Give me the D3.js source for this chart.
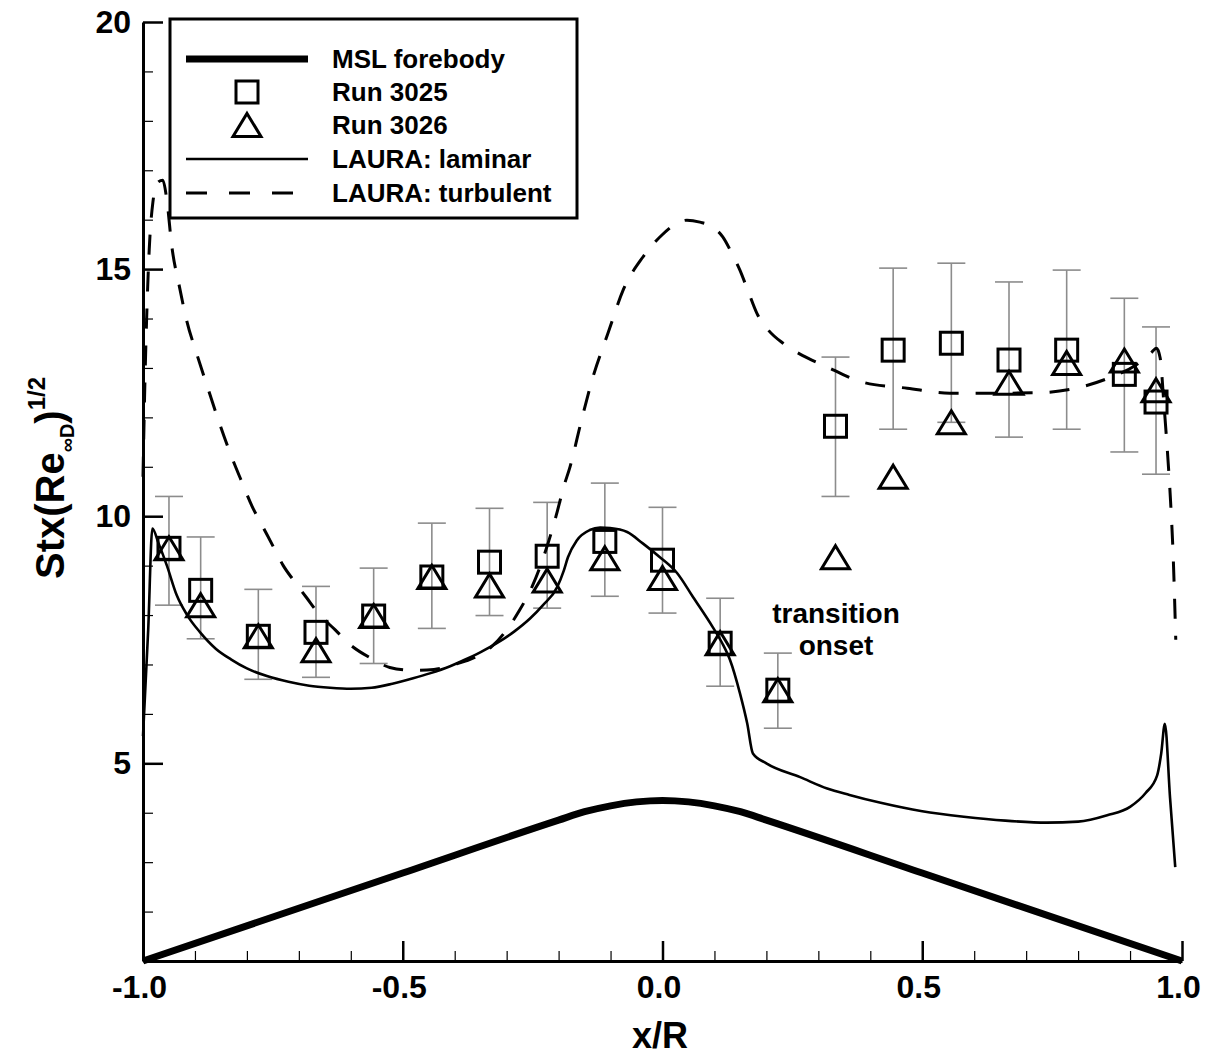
<!DOCTYPE html>
<html>
<head>
<meta charset="utf-8">
<script src="https://cdn.jsdelivr.net/npm/d3@7"></script>
<style>
  html, body { margin: 0; padding: 0; background: #fff; }
  svg { display: block; }
  text { font-family: "Liberation Sans", Arial, Helvetica, sans-serif; font-weight: bold; fill: #000; }
</style>
</head>
<body>
<svg id="chart" width="1214" height="1055"></svg>
<script>
// Station locations along the forebody (x/R) for the wind-tunnel gauges
const gaugeX = [-0.95, -0.889, -0.778, -0.667, -0.556, -0.444, -0.333, -0.222, -0.111, 0.0,
                0.111, 0.222, 0.333, 0.444, 0.556, 0.667, 0.778, 0.889, 0.95];

// Run 3025 measurements with uncertainty bounds
const run3025 = [9.35, 8.5, 7.57, 7.65, 7.98, 8.77, 9.07, 9.19, 9.49, 9.11,
                 7.43, 6.48, 11.82, 13.36, 13.5, 13.16, 13.36, 12.87, 12.31];
const run3025Hi = [10.4, 9.58, 8.52, 8.58, 8.95, 9.86, 10.16, 10.28, 10.67, 10.18,
                   8.34, 7.23, 13.22, 15.02, 15.12, 14.74, 14.98, 14.41, 13.83];
const run3025Lo = [8.2, 7.52, 6.7, 6.74, 7.02, 7.73, 7.99, 8.14, 8.38, 8.04,
                   6.56, 5.71, 10.4, 11.76, 11.9, 11.6, 11.76, 11.3, 10.85];

// Run 3026 measurements
const run3026 = [9.35, 8.2, 7.57, 7.29, 7.98, 8.77, 8.6, 8.7, 9.15, 8.75,
                 7.43, 6.48, 9.17, 10.8, 11.9, 12.7, 13.1, 13.15, 12.55];

// LAURA laminar solution
const laminarX = [-1.0, -0.99, -0.982, -0.97, -0.954, -0.935, -0.915, -0.89, -0.86, -0.83, -0.8, -0.76,
                  -0.72, -0.68, -0.64, -0.6, -0.56, -0.52, -0.48, -0.448, -0.41, -0.384, -0.35, -0.319,
                  -0.285, -0.255, -0.23, -0.203, -0.19, -0.182, -0.165, -0.14, -0.12, -0.101, -0.068,
                  -0.038, -0.005, 0.028, 0.059, 0.097, 0.115, 0.13, 0.149, 0.163, 0.174, 0.2, 0.265,
                  0.317, 0.36, 0.42, 0.5, 0.58, 0.66, 0.74, 0.8, 0.856, 0.9, 0.93, 0.952, 0.96, 0.967,
                  0.977, 0.987];
const laminarY = [5.55, 7.7, 9.75, 9.45, 9.0, 8.4, 8.0, 7.65, 7.32, 7.1, 6.92, 6.76,
                  6.65, 6.57, 6.53, 6.51, 6.53, 6.61, 6.72, 6.82, 6.96, 7.08, 7.25, 7.43,
                  7.67, 7.93, 8.2, 8.56, 8.9, 9.17, 9.51, 9.72, 9.77, 9.76, 9.68,
                  9.45, 9.17, 8.85, 8.36, 7.75, 7.43, 7.09, 6.42, 5.81, 5.2, 5.0, 4.72,
                  4.49, 4.36, 4.2, 4.03, 3.92, 3.84, 3.8, 3.82, 3.95, 4.12, 4.4, 4.75, 5.2, 5.8,
                  4.3, 2.9];

// LAURA turbulent solution
const turbulentX = [-1.0, -0.997, -0.993, -0.988, -0.981, -0.972, -0.962, -0.953, -0.945, -0.93,
                    -0.916, -0.897, -0.877, -0.855, -0.833, -0.81, -0.79, -0.77, -0.75, -0.73,
                    -0.71, -0.685, -0.663, -0.63, -0.6, -0.56, -0.525, -0.48, -0.44, -0.4,
                    -0.36, -0.33, -0.3, -0.275, -0.25, -0.225, -0.205, -0.19, -0.178, -0.156,
                    -0.134, -0.105, -0.076, -0.038, 0.0, 0.028, 0.047, 0.072, 0.097, 0.116,
                    0.132, 0.149, 0.165, 0.182, 0.205, 0.232, 0.27, 0.309, 0.386, 0.471,
                    0.553, 0.663, 0.727, 0.804, 0.86, 0.91, 0.94, 0.951, 0.958, 0.965,
                    0.972, 0.978, 0.983, 0.988];
const turbulentY = [10.8, 12.4, 14.0, 15.4, 16.35, 16.75, 16.8, 16.3, 15.5, 14.65,
                    13.96, 13.3, 12.65, 11.95, 11.3, 10.7, 10.2, 9.8, 9.4, 9.0,
                    8.7, 8.35, 8.04, 7.7, 7.39, 7.12, 6.94, 6.88, 6.9, 7.0,
                    7.15, 7.35, 7.7, 8.1, 8.6, 9.3, 10.0, 10.6, 11.0, 11.94,
                    12.81, 13.7, 14.57, 15.24, 15.7, 15.93, 15.99, 15.95, 15.85, 15.65,
                    15.35, 14.98, 14.55, 14.1, 13.75, 13.5, 13.25, 13.06, 12.71, 12.59,
                    12.49, 12.49, 12.5, 12.61, 12.8, 13.05, 13.3, 13.4, 13.2, 12.3,
                    11.3, 10.3, 9.2, 7.5];

// MSL forebody outline (scaled)
const forebodyX = [-1.0, -0.5, -0.2, -0.15, -0.1, -0.05, 0.0, 0.05, 0.1, 0.15, 0.2, 0.5, 1.0];
const forebodyY = [1.0, 2.78, 3.85, 4.02, 4.14, 4.22, 4.25, 4.22, 4.14, 4.02, 3.85, 2.78, 1.0];

// Axis ticks
const xMajorTicks = [-1.0, -0.5, 0.0, 0.5, 1.0];
const xTickLabels = ["-1.0", "-0.5", "0.0", "0.5", "1.0"];
const yMajorTicks = [5, 10, 15, 20];
const yTickLabels = ["5", "10", "15", "20"];

const legendLabels = ["MSL forebody", "Run 3025", "Run 3026", "LAURA: laminar", "LAURA: turbulent"];

const svg = d3.select("#chart");

const x = d3.scaleLinear().domain([-1, 1]).range([143, 1182]);
const y = d3.scaleLinear().domain([1, 20]).range([961, 22]);

const xMinor = d3.range(-10, 11).map(d => d / 10).filter(d => !xMajorTicks.some(t => Math.abs(t - d) < 1e-9));
const yMinor = d3.range(1, 21).filter(d => !yMajorTicks.includes(d));

// Axes
const gx = svg.append("g").attr("transform", `translate(0,${y(1)})`);
gx.call(d3.axisBottom(x).tickValues(xMajorTicks).tickFormat((d, i) => xTickLabels[i])
  .tickSizeInner(-20).tickSizeOuter(0).tickPadding(14));
const gxm = svg.append("g").attr("transform", `translate(0,${y(1)})`);
gxm.call(d3.axisBottom(x).tickValues(xMinor).tickFormat("").tickSizeInner(-10).tickSizeOuter(0));

const gy = svg.append("g").attr("transform", `translate(${x(-1)},0)`);
gy.call(d3.axisLeft(y).tickValues(yMajorTicks).tickFormat((d, i) => yTickLabels[i])
  .tickSizeInner(-20).tickSizeOuter(0).tickPadding(12));
const gym = svg.append("g").attr("transform", `translate(${x(-1)},0)`);
gym.call(d3.axisLeft(y).tickValues(yMinor).tickFormat("").tickSizeInner(-10).tickSizeOuter(0));

[gx, gy].forEach(g => {
  g.select(".domain").attr("stroke", "#000").attr("stroke-width", 3);
  g.selectAll(".tick line").attr("stroke", "#000").attr("stroke-width", 2.5);
  g.selectAll(".tick text").style("font-size", "32px").style("font-weight", "bold")
    .style("font-family", '"Liberation Sans", Arial, sans-serif');
});
gx.selectAll(".tick text").attr("dx", -4);
[gxm, gym].forEach(g => {
  g.select(".domain").remove();
  g.selectAll(".tick line").attr("stroke", "#000").attr("stroke-width", 1.2);
});

// Axis titles
svg.append("text").attr("x", 660).attr("y", 1048).attr("text-anchor", "middle")
  .style("font-size", "36px").text("x/R");

const yl = svg.append("text")
  .attr("transform", "translate(64,478) rotate(-90)")
  .attr("text-anchor", "middle")
  .style("font-size", "40px");
yl.append("tspan").text("Stx(Re");
yl.append("tspan").attr("dy", 10).style("font-size", "20px").text("∞D");
yl.append("tspan").attr("dy", -10).text(")");
yl.append("tspan").attr("dy", -19).style("font-size", "24px").text("1/2");

// Error bars for Run 3025
const eb = svg.append("g").attr("stroke", "#8c8c8c").attr("stroke-width", 1.6).attr("fill", "none");
gaugeX.forEach((gxv, i) => {
  const cx = x(gxv);
  eb.append("line").attr("x1", cx).attr("x2", cx).attr("y1", y(run3025Hi[i])).attr("y2", y(run3025Lo[i]));
  eb.append("line").attr("x1", cx - 14).attr("x2", cx + 14).attr("y1", y(run3025Hi[i])).attr("y2", y(run3025Hi[i]));
  eb.append("line").attr("x1", cx - 14).attr("x2", cx + 14).attr("y1", y(run3025Lo[i])).attr("y2", y(run3025Lo[i]));
});

// Curves
const line = d3.line().x(d => x(d[0])).y(d => y(d[1])).curve(d3.curveMonotoneX);

svg.append("path").datum(d3.zip(forebodyX, forebodyY)).attr("d", line)
  .attr("fill", "none").attr("stroke", "#000").attr("stroke-width", 7).attr("stroke-linejoin", "round");

svg.append("path").datum(d3.zip(laminarX, laminarY)).attr("d", line)
  .attr("fill", "none").attr("stroke", "#000").attr("stroke-width", 2.6).attr("stroke-linejoin", "round");

svg.append("path").datum(d3.zip(turbulentX, turbulentY)).attr("d", line)
  .attr("fill", "none").attr("stroke", "#000").attr("stroke-width", 3).attr("stroke-dasharray", "20,17");

// Markers
const sq = 22, triW = 28, triH = 23;
const triPath = (cx, cy) => `M${cx},${cy - triH / 2}L${cx + triW / 2},${cy + triH / 2}L${cx - triW / 2},${cy + triH / 2}Z`;

svg.append("g").selectAll("rect").data(d3.zip(gaugeX, run3025)).join("rect")
  .attr("x", d => x(d[0]) - sq / 2).attr("y", d => y(d[1]) - sq / 2)
  .attr("width", sq).attr("height", sq)
  .attr("fill", "none").attr("stroke", "#000").attr("stroke-width", 3);

svg.append("g").selectAll("path").data(d3.zip(gaugeX, run3026)).join("path")
  .attr("d", d => triPath(x(d[0]), y(d[1])))
  .attr("fill", "none").attr("stroke", "#000").attr("stroke-width", 3).attr("stroke-linejoin", "miter");

// Annotation
svg.append("text").attr("x", 836).attr("y", 623).attr("text-anchor", "middle").style("font-size", "28px").text("transition");
svg.append("text").attr("x", 836).attr("y", 655).attr("text-anchor", "middle").style("font-size", "28px").text("onset");

// Legend
const lg = svg.append("g");
lg.append("rect").attr("x", 170).attr("y", 19).attr("width", 407).attr("height", 199)
  .attr("fill", "#fff").attr("stroke", "#000").attr("stroke-width", 3);
const rowY = [59, 92, 125, 159, 193];
const lx1 = 186, lx2 = 308, lmid = 247, tx = 332;
lg.append("line").attr("x1", lx1).attr("x2", lx2).attr("y1", rowY[0]).attr("y2", rowY[0])
  .attr("stroke", "#000").attr("stroke-width", 7);
lg.append("rect").attr("x", lmid - sq / 2).attr("y", rowY[1] - sq / 2).attr("width", sq).attr("height", sq)
  .attr("fill", "none").attr("stroke", "#000").attr("stroke-width", 3);
lg.append("path").attr("d", triPath(lmid, rowY[2]))
  .attr("fill", "none").attr("stroke", "#000").attr("stroke-width", 3);
lg.append("line").attr("x1", lx1).attr("x2", lx2).attr("y1", rowY[3]).attr("y2", rowY[3])
  .attr("stroke", "#000").attr("stroke-width", 2.6);
lg.append("line").attr("x1", lx1).attr("x2", lx2).attr("y1", rowY[4]).attr("y2", rowY[4])
  .attr("stroke", "#000").attr("stroke-width", 3).attr("stroke-dasharray", "21,22");
legendLabels.forEach((t, i) => {
  lg.append("text").attr("x", tx).attr("y", rowY[i] + 9).style("font-size", "26px").text(t);
});
</script>
</body>
</html>
